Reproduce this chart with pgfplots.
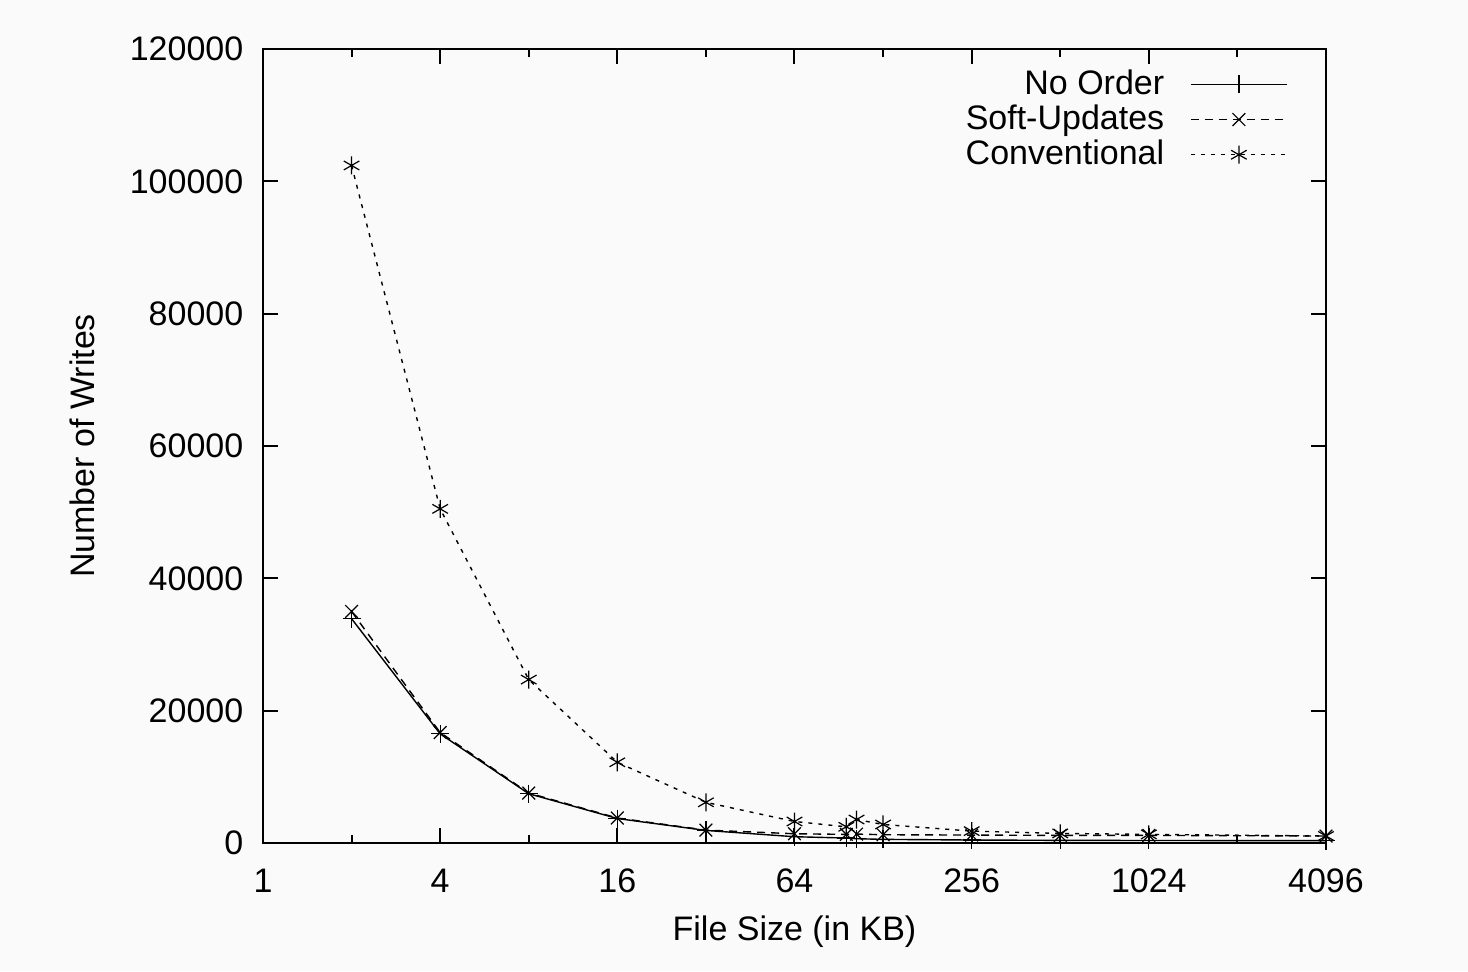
\documentclass[border=0pt]{standalone}
\usepackage{fontspec}
\setmainfont{Liberation Sans}
\usepackage{pgfplots}
\pgfplotsset{compat=1.18}

\pgfplotstableread{
x     noorder  soft    conv
2     33900    35000   102400
4     16500    16700   50500
8     7450     7550    24700
16    3700     3780    12200
32    1900     1950    6150
64    950      1400    3250
96    750      1300    2450
104   650      1350    3550
128   550      1250    2800
256   450      1200    1800
512   400      1150    1450
1024  380      1150    1300
4096  350      1050    1060
}\writes

\begin{document}
\fontsize{17}{20}\selectfont
\begin{tikzpicture}
\useasboundingbox[fill=black!2] (-131.5pt,-64pt) rectangle (602.5pt,421.5pt);
\begin{axis}[
  at={(0pt,0pt)}, anchor=south west,
  scale only axis, width=531.5pt, height=397pt,
  xmode=log, log basis x=2,
  xmin=1, xmax=4096, ymin=0, ymax=120000,
  xtick={1,4,16,64,256,1024,4096},
  xticklabels={1,4,16,64,256,1024,4096},
  minor x tick num=0,
  extra x ticks={2,8,32,128,512,2048},
  extra x tick labels={},
  extra x tick style={major tick length=4pt, grid=none},
  ytick={0,20000,...,120000},
  scaled y ticks=false,
  yticklabel style={xshift=-4pt, /pgf/number format/.cd, fixed, set thousands separator={}, assume math mode=true},
  xticklabel style={yshift=-7pt},
  major tick length=7.5pt,
  tick style={line width=1pt, black},
  axis line style={line width=1.2pt},
  xlabel={File Size (in KB)}, ylabel={Number of Writes},
  xlabel style={at={(axis description cs:0.5,-0.1096)}, anchor=center, yshift=-1pt},
  ylabel style={at={(axis description cs:-0.1703,0.5)}, anchor=center, rotate=0},
  legend plot pos=right, legend cell align=right,
  legend style={at={(1,1)}, anchor=north east, xshift=-16pt, yshift=-5pt,
    draw=none, fill=none, row sep=-3.25pt,
    nodes={inner sep=3pt},
    /tikz/every odd column/.append style={column sep=10pt}},
  legend image code/.code={\draw[mark repeat=2, mark phase=2, #1] plot coordinates {(0pt,0pt) (24pt,0pt) (48pt,0pt)};},
  every axis plot/.append style={black, line width=0.7pt, mark size=4.5pt, mark options={solid, line width=0.6pt}},
]
\addplot[mark=+] table[x=x, y=noorder] {\writes};
\addlegendentry{No Order}
\addplot[mark=x, dash pattern=on 4pt off 3pt] table[x=x, y=soft] {\writes};
\addlegendentry{Soft-Updates}
\addplot[mark=asterisk, dash pattern=on 2pt off 3pt] table[x=x, y=conv] {\writes};
\addlegendentry{Conventional}
\end{axis}
\end{tikzpicture}
\end{document}
